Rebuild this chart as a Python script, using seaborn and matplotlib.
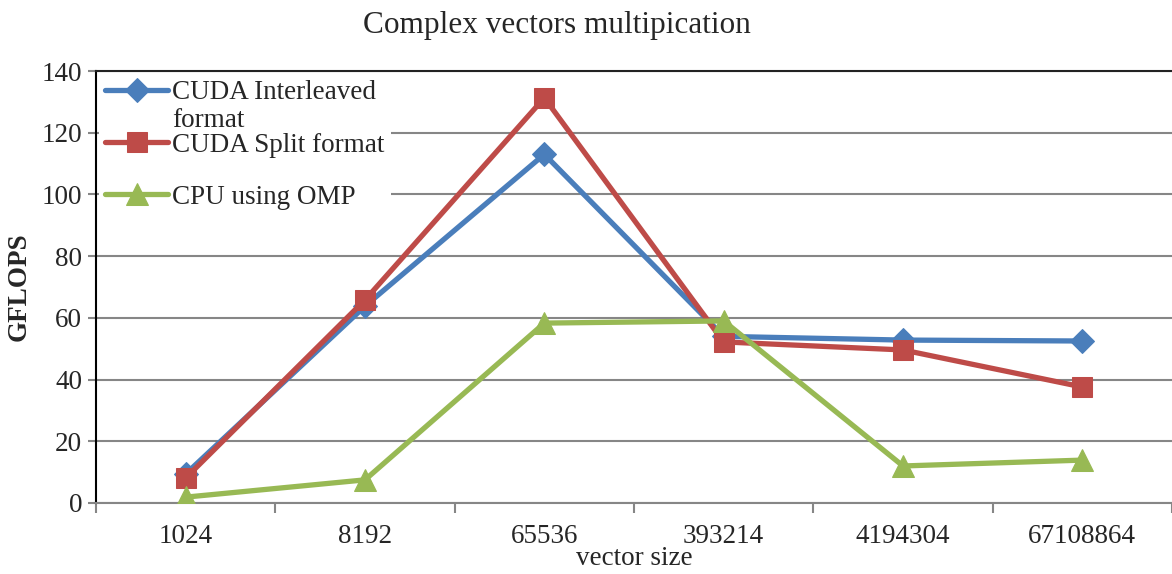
import matplotlib
matplotlib.use("Agg")
import matplotlib.pyplot as plt
import seaborn as sns
import pandas as pd
import numpy as np
from matplotlib.ticker import FixedLocator, NullFormatter

categories = ["1024", "8192", "65536", "393214", "4194304", "67108864"]
cuda_interleaved = [9.4, 63.8, 113.0, 54.0, 52.8, 52.5]
cuda_split = [8.1, 65.8, 131.3, 52.2, 49.6, 37.6]
cpu_omp = [1.9, 7.5, 58.3, 59.0, 12.0, 13.9]
series_names = ["CUDA Interleaved", "CUDA Split format", "CPU using OMP"]
wrap_line = "format"
y_ticks = [0, 20, 40, 60, 80, 100, 120, 140]

sns.set_theme(style="white")
plt.rcParams["font.family"] = ["Liberation Serif", "DejaVu Serif"]

rows = []
for name, vals in zip(series_names, [cuda_interleaved, cuda_split, cpu_omp]):
    for i, (c, v) in enumerate(zip(categories, vals)):
        rows.append({"pos": i, "size": c, "GFLOPS": v, "series": name})
df = pd.DataFrame(rows)

colors = ["#4A7EBB", "#BE4B48", "#98B954"]
markers = ["D", "s", "^"]
msizes = [12.5, 14, 16]

fig = plt.figure(figsize=(11.72, 5.74), dpi=100)
ax = fig.add_axes([96/1172, (574-503)/574, 1 - 96/1172, (503-71)/574])

for name, col, mk, ms in zip(series_names, colors, markers, msizes):
    sub = df[df["series"] == name]
    sns.lineplot(data=sub, x="pos", y="GFLOPS", ax=ax, color=col, marker=mk,
                 markersize=ms, markeredgecolor=col, linewidth=3.8, label=name,
                 zorder=3)

FS = 19.5
ax.set_xlim(-0.5, len(categories) - 0.5)
ax.set_ylim(0, 140)
ax.set_yticks(y_ticks)
ax.set_yticklabels([str(t) for t in y_ticks], fontsize=FS)
ax.set_xticks(range(len(categories)))
ax.set_xticklabels(categories, fontsize=FS)
ax.xaxis.set_minor_locator(FixedLocator(np.arange(-0.5, len(categories), 1.0)))
ax.xaxis.set_minor_formatter(NullFormatter())
ax.tick_params(axis="x", which="major", length=0, pad=15)
ax.tick_params(axis="x", which="minor", length=7, width=1.5, color="#868686", direction="out", bottom=True)
ax.tick_params(axis="y", which="major", length=6, width=1.5, color="#868686", direction="out", left=True, pad=4)

ax.grid(axis="y", color="#868686", linewidth=1.5, zorder=0)
ax.set_axisbelow(True)
ax.spines["right"].set_visible(False)
ax.spines["top"].set_color("#222222")
ax.spines["top"].set_linewidth(1.5)
ax.spines["left"].set_color("black")
ax.spines["left"].set_linewidth(1.5)
ax.spines["bottom"].set_color("#868686")
ax.spines["bottom"].set_linewidth(1.5)

ax.set_xlabel("vector size", fontsize=FS, labelpad=-2)
ax.set_ylabel("GFLOPS", fontsize=FS, fontweight="bold", labelpad=7)
fig.text(557/1172, 1 - 25/574, "Complex vectors multipication", fontsize=22.5,
         ha="center", va="center")

leg = ax.legend(loc="upper left", bbox_to_anchor=(0.0, 1.0), fontsize=FS,
                frameon=True, facecolor="white", edgecolor="white", framealpha=1,
                handlelength=2.3, handletextpad=0.15, labelspacing=1.0,
                borderpad=0.25, borderaxespad=0.1)
leg.get_frame().set_linewidth(0)

fig.canvas.draw()
t0 = leg.get_texts()[0]
bb = t0.get_window_extent()
inv = fig.transFigure.inverted()
x0, y0 = inv.transform((bb.x0, bb.y0))
fig.text(x0, y0 - 3/574, wrap_line, fontsize=FS, ha="left", va="top", zorder=10)

fig.savefig("out.png", dpi=100)
